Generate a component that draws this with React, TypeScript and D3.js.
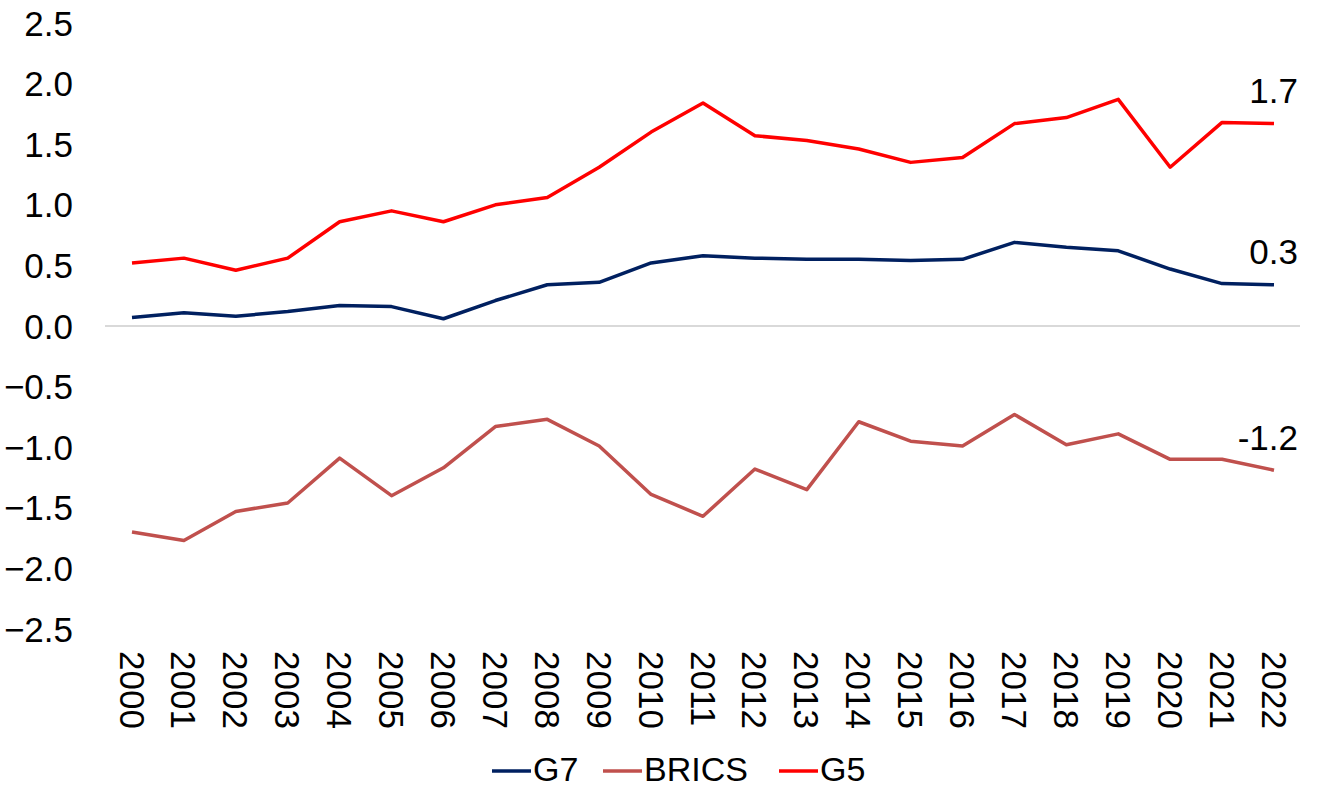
import React from 'react'
import * as d3 from 'd3'

const years = d3.range(2000, 2023)
const g7 = [0.07, 0.11, 0.08, 0.12, 0.17, 0.16, 0.06, 0.21, 0.34, 0.36, 0.52, 0.58, 0.56, 0.55, 0.55, 0.54, 0.55, 0.69, 0.65, 0.62, 0.47, 0.35, 0.34]
const brics = [-1.7, -1.77, -1.53, -1.46, -1.09, -1.4, -1.17, -0.83, -0.77, -0.99, -1.39, -1.57, -1.18, -1.35, -0.79, -0.95, -0.99, -0.73, -0.98, -0.89, -1.1, -1.1, -1.19]
const g5 = [0.52, 0.56, 0.46, 0.56, 0.86, 0.95, 0.86, 1.0, 1.06, 1.31, 1.6, 1.84, 1.57, 1.53, 1.46, 1.35, 1.39, 1.67, 1.72, 1.87, 1.31, 1.68, 1.67]
const yTicks = [2.5, 2.0, 1.5, 1.0, 0.5, 0.0, -0.5, -1.0, -1.5, -2.0, -2.5]

const series = [
  { name: 'G7', values: g7, color: '#002060', label: '0.3' },
  { name: 'BRICS', values: brics, color: '#c0504d', label: '-1.2' },
  { name: 'G5', values: g5, color: '#ff0000', label: '1.7' },
]

const font = 'Liberation Sans, Arial, sans-serif'

const App = () => {
  const x = d3.scaleLinear().domain([2000, 2022]).range([132, 1274])
  const y = d3.scaleLinear().domain([-2.5, 2.5]).range([629, 23])
  const line = d3.line<number>().x((d, i) => x(years[i])).y(d => y(d))
  const fmt = d3.format('.1f')

  // legend layout
  const legend = [
    { ...series[0], lx: 492 },
    { ...series[1], lx: 603 },
    { ...series[2], lx: 779 },
  ]
  const ly = 769

  return (
    <svg width={1319} height={789} style={{ position: 'absolute', left: 0, top: 0 }} fontFamily={font}>
      <rect width={1319} height={789} fill="#fff" />
      <line x1={105} x2={1300} y1={y(0)} y2={y(0)} stroke="#d9d9d9" strokeWidth={2} />
      {yTicks.map(t => (
        <text key={t} x={73} y={y(t)} textAnchor="end" dominantBaseline="central" fontSize={35} fill="#000">
          {fmt(t)}
        </text>
      ))}
      {years.map(yr => (
        <text key={yr} transform={`translate(${x(yr)},651) rotate(90)`} dominantBaseline="central" fontSize={35} fill="#000">
          {yr}
        </text>
      ))}
      {series.map(s => (
        <path key={s.name} d={line(s.values) || ''} fill="none" stroke={s.color} strokeWidth={3.5} strokeLinejoin="round" />
      ))}
      {series.map(s => (
        <text key={s.name} x={1298} y={y(s.values[s.values.length - 1]) - 33} textAnchor="end" dominantBaseline="central" fontSize={35} fill="#000">
          {s.label}
        </text>
      ))}
      {legend.map(s => (
        <g key={s.name}>
          <line x1={s.lx} x2={s.lx + 39} y1={ly + 2} y2={ly + 2} stroke={s.color} strokeWidth={3.5} />
          <text x={s.lx + 41} y={ly} dominantBaseline="central" fontSize={34} fill="#000">{s.name}</text>
        </g>
      ))}
    </svg>
  )
}

export default App
